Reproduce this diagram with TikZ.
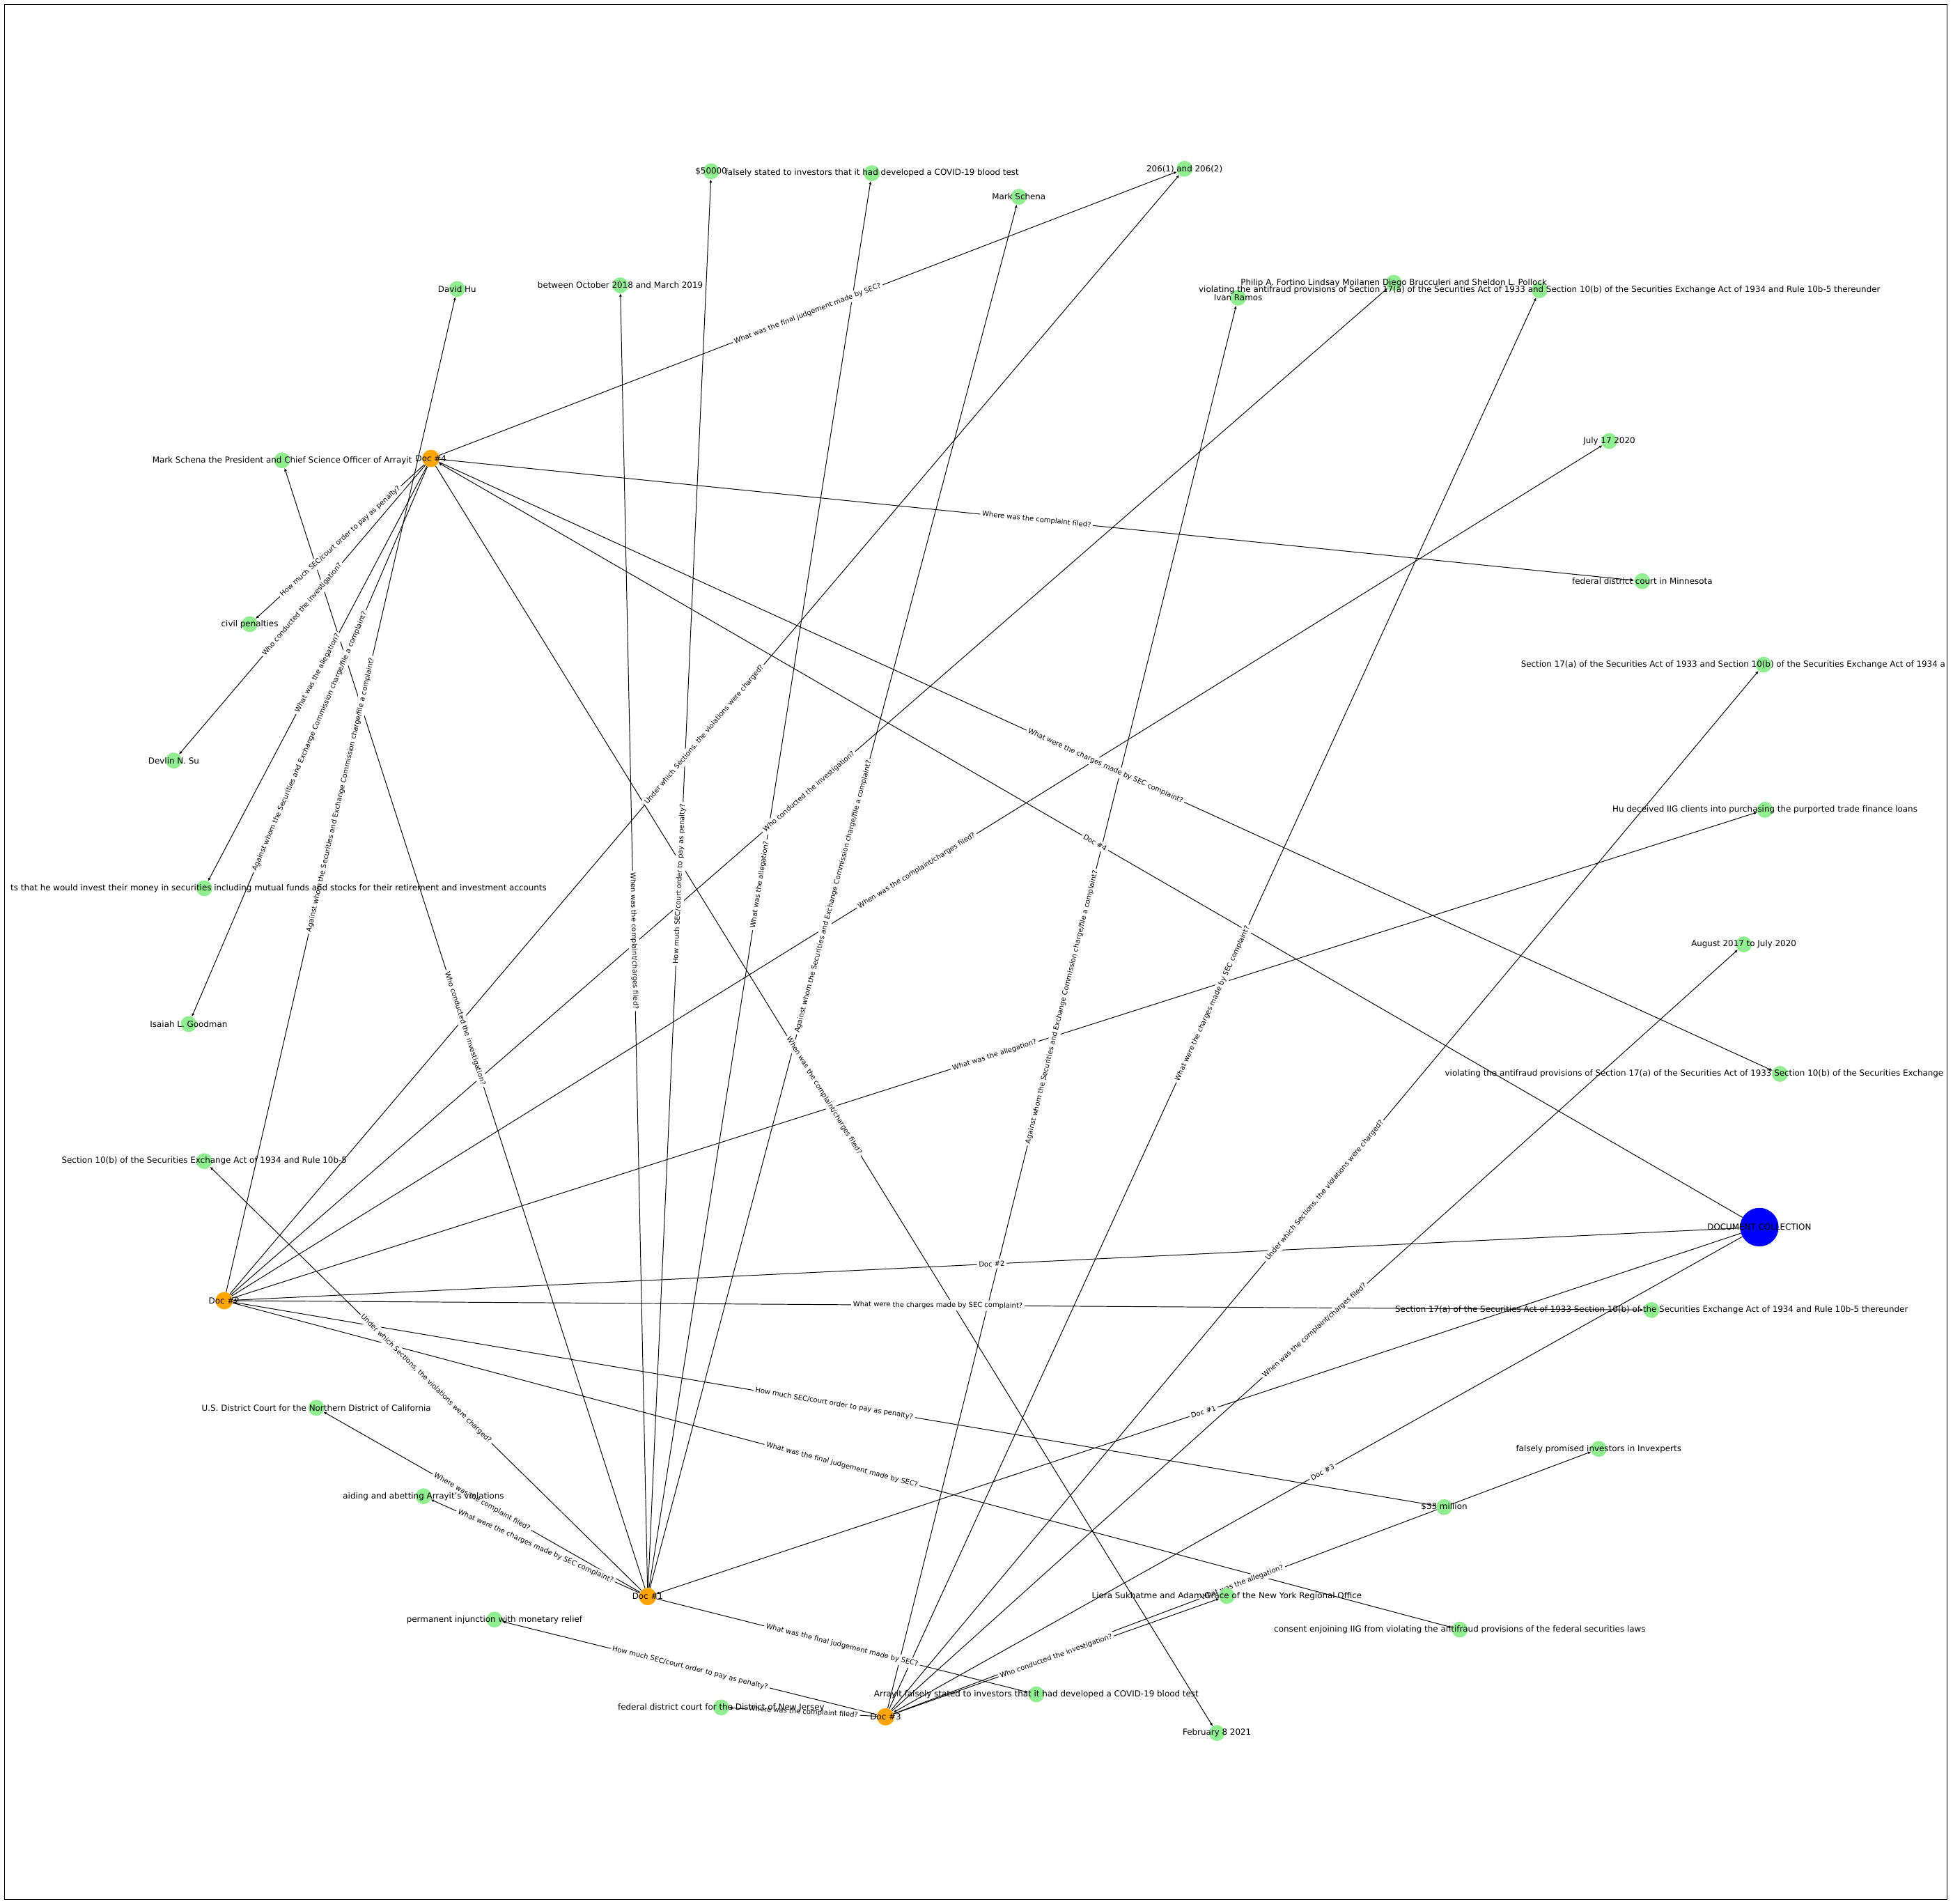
\documentclass[tikz,border=0pt]{standalone}
\usepackage{fontspec}
\setmainfont{DejaVu Sans}
\usetikzlibrary{arrows.meta}
\definecolor{lightgreen}{HTML}{90EE90}
\definecolor{docorange}{HTML}{FFA500}
\pgfdeclarelayer{lines}
\pgfdeclarelayer{qtext}
\pgfsetlayers{lines,qtext,main}
\begin{document}
\begin{tikzpicture}[x=0.4542mm, y=-0.4542mm,
  ans/.style={circle, fill=lightgreen, minimum size=16.5pt, inner sep=0pt},
  doc/.style={circle, fill=docorange, minimum size=18pt, inner sep=0pt},
  collection/.style={circle, fill=blue, minimum size=40pt, inner sep=0pt},
  txt/.style={inner sep=0pt, font=\fontsize{8.6}{10}\selectfont},
  qline/.style={-{Latex[length=3.2pt,width=3pt]}, line width=0.7pt},
  qlabel/.style={midway, sloped, fill=white, rounded corners=2pt, inner sep=2pt, font=\fontsize{7.2}{8}\selectfont}]
\useasboundingbox (0,0) rectangle (1568,1528);
\begin{scope}
\clip (3.4,3.4) rectangle (1563,1524.5);
% document nodes
\node (coll)[collection] at (1412.5, 985) {};
\node (d1)[doc] at (520, 1281.5) {};
\node (d2)[doc] at (180, 1044) {};
\node (d3)[doc] at (711, 1378) {};
\node (d4)[doc] at (346, 368) {};
% answers
\node (fine)[ans] at (571, 137.5) {};
\node (covid)[ans] at (700, 139) {};
\node (sec206)[ans] at (951, 135.5) {};
\node (schena)[ans] at (818, 158) {};
\node (davidhu)[ans] at (367, 232) {};
\node (octmar)[ans] at (498, 229) {};
\node (fortino)[ans] at (1119, 227) {};
\node (viola)[ans] at (1236, 233) {};
\node (ramos)[ans] at (994, 239) {};
\node (july)[ans] at (1292, 354) {};
\node (president)[ans] at (226.5, 369.5) {};
\node (minn)[ans] at (1318.5, 466.5) {};
\node (civil)[ans] at (200.5, 501) {};
\node (seca)[ans] at (1416, 533.5) {};
\node (devlin)[ans] at (139.5, 610.5) {};
\node (hudec)[ans] at (1417, 650) {};
\node (invest)[ans] at (164, 713) {};
\node (augjul)[ans] at (1400, 758) {};
\node (violb)[ans] at (1429, 862) {};
\node (isaiah)[ans] at (151.5, 822) {};
\node (secb)[ans] at (164, 932) {};
\node (secc)[ans] at (1326, 1051.5) {};
\node (usdc)[ans] at (254, 1130) {};
\node (invexp)[ans] at (1283.5, 1163) {};
\node (aiding)[ans] at (340, 1201) {};
\node (million)[ans] at (1159.5, 1209.7) {};
\node (liora)[ans] at (985, 1281) {};
\node (consent)[ans] at (1172, 1308) {};
\node (perm)[ans] at (397, 1300) {};
\node (arrayit)[ans] at (832, 1360) {};
\node (njcourt)[ans] at (579, 1370.5) {};
\node (feb)[ans] at (977, 1391) {};

% connectors
\begin{pgfonlayer}{lines}
\draw[qline] (coll) -- (d1);
\draw[qline] (coll) -- (d2);
\draw[qline] (coll) -- (d3);
\draw[qline] (coll) -- (d4);
\draw[qline] (d1) -- (fine);
\draw[qline] (d1) -- (octmar);
\draw[qline] (d1) -- (covid);
\draw[qline] (d1) -- (schena);
\draw[qline] (d1) -- (president);
\draw[qline] (d1) -- (secb);
\draw[qline] (d1) -- (usdc);
\draw[qline] (d1) -- (aiding);
\draw[qline] (d1) -- (arrayit);
\draw[qline] (d2) -- (davidhu);
\draw[qline] (d2) -- (sec206);
\draw[qline] (d2) -- (fortino);
\draw[qline] (d2) -- (july);
\draw[qline] (d2) -- (hudec);
\draw[qline] (d2) -- (secc);
\draw[qline] (d2) -- (million);
\draw[qline] (d2) -- (consent);
\draw[qline] (d3) -- (ramos);
\draw[qline] (d3) -- (viola);
\draw[qline] (d3) -- (seca);
\draw[qline] (d3) -- (augjul);
\draw[qline] (d3) -- (liora);
\draw[qline] (d3) -- (invexp);
\draw[qline] (d3) -- (perm);
\draw[qline] (d3) -- (njcourt);
\draw[qline] (d4) -- (sec206);
\draw[qline] (d4) -- (minn);
\draw[qline] (d4) -- (violb);
\draw[qline] (d4) -- (civil);
\draw[qline] (d4) -- (devlin);
\draw[qline] (d4) -- (invest);
\draw[qline] (d4) -- (isaiah);
\draw[qline] (d4) -- (feb);
\end{pgfonlayer}

% questions on the connectors
\begin{pgfonlayer}{qtext}
\path (coll.center) -- (d1.center) node[qlabel] {Doc \#1};
\path (coll.center) -- (d2.center) node[qlabel] {Doc \#2};
\path (coll.center) -- (d3.center) node[qlabel] {Doc \#3};
\path (coll.center) -- (d4.center) node[qlabel] {Doc \#4};
\path (d1.center) -- (fine.center) node[qlabel] {How much SEC/court order to pay as penalty?};
\path (d1.center) -- (octmar.center) node[qlabel] {When was the complaint/charges filed?};
\path (d1.center) -- (covid.center) node[qlabel] {What was the allegation?};
\path (d1.center) -- (schena.center) node[qlabel] {Against whom the Securities and Exchange Commission charge/file a complaint?};
\path (d1.center) -- (president.center) node[qlabel] {Who conducted the investigation?};
\path (d1.center) -- (secb.center) node[qlabel] {Under which Sections, the violations were charged?};
\path (d1.center) -- (usdc.center) node[qlabel] {Where was the complaint filed?};
\path (d1.center) -- (aiding.center) node[qlabel] {What were the charges made by SEC complaint?};
\path (d1.center) -- (arrayit.center) node[qlabel] {What was the final judgement made by SEC?};
\path (d2.center) -- (davidhu.center) node[qlabel] {Against whom the Securities and Exchange Commission charge/file a complaint?};
\path (d2.center) -- (sec206.center) node[qlabel] {Under which Sections, the violations were charged?};
\path (d2.center) -- (fortino.center) node[qlabel] {Who conducted the investigation?};
\path (d2.center) -- (july.center) node[qlabel] {When was the complaint/charges filed?};
\path (d2.center) -- (hudec.center) node[qlabel] {What was the allegation?};
\path (d2.center) -- (secc.center) node[qlabel] {What were the charges made by SEC complaint?};
\path (d2.center) -- (million.center) node[qlabel] {How much SEC/court order to pay as penalty?};
\path (d2.center) -- (consent.center) node[qlabel] {What was the final judgement made by SEC?};
\path (d3.center) -- (ramos.center) node[qlabel] {Against whom the Securities and Exchange Commission charge/file a complaint?};
\path (d3.center) -- (viola.center) node[qlabel] {What were the charges made by SEC complaint?};
\path (d3.center) -- (seca.center) node[qlabel] {Under which Sections, the violations were charged?};
\path (d3.center) -- (augjul.center) node[qlabel] {When was the complaint/charges filed?};
\path (d3.center) -- (liora.center) node[qlabel] {Who conducted the investigation?};
\path (d3.center) -- (invexp.center) node[qlabel] {What was the allegation?};
\path (d3.center) -- (perm.center) node[qlabel] {How much SEC/court order to pay as penalty?};
\path (d3.center) -- (njcourt.center) node[qlabel] {Where was the complaint filed?};
\path (d4.center) -- (sec206.center) node[qlabel] {What was the final judgement made by SEC?};
\path (d4.center) -- (minn.center) node[qlabel] {Where was the complaint filed?};
\path (d4.center) -- (violb.center) node[qlabel] {What were the charges made by SEC complaint?};
\path (d4.center) -- (civil.center) node[qlabel] {How much SEC/court order to pay as penalty?};
\path (d4.center) -- (devlin.center) node[qlabel] {Who conducted the investigation?};
\path (d4.center) -- (invest.center) node[qlabel] {What was the allegation?};
\path (d4.center) -- (isaiah.center) node[qlabel] {Against whom the Securities and Exchange Commission charge/file a complaint?};
\path (d4.center) -- (feb.center) node[qlabel] {When was the complaint/charges filed?};
\end{pgfonlayer}

% texts of the nodes
\node (coll-t)[txt] at (coll) {DOCUMENT COLLECTION};
\node (d1-t)[txt] at (d1) {Doc \#1};
\node (d2-t)[txt] at (d2) {Doc \#2};
\node (d3-t)[txt] at (d3) {Doc \#3};
\node (d4-t)[txt] at (d4) {Doc \#4};
\node (fine-t)[txt] at (fine) {\$50000};
\node (covid-t)[txt] at (covid) {falsely stated to investors that it had developed a COVID-19 blood test};
\node (sec206-t)[txt] at (sec206) {206(1) and 206(2)};
\node (schena-t)[txt] at (schena) {Mark Schena};
\node (davidhu-t)[txt] at (davidhu) {David Hu};
\node (octmar-t)[txt] at (octmar) {between October 2018 and March 2019};
\node (fortino-t)[txt] at (fortino) {Philip A. Fortino Lindsay Moilanen Diego Brucculeri and Sheldon L. Pollock};
\node (viola-t)[txt] at (viola) {violating the antifraud provisions of Section 17(a) of the Securities Act of 1933 and Section 10(b) of the Securities Exchange Act of 1934 and Rule 10b-5 thereunder};
\node (ramos-t)[txt] at (ramos) {Ivan Ramos};
\node (july-t)[txt] at (july) {July 17 2020};
\node (president-t)[txt] at (president) {Mark Schena the President and Chief Science Officer of Arrayit};
\node (minn-t)[txt] at (minn) {federal district court in Minnesota};
\node (civil-t)[txt] at (civil) {civil penalties};
\node (seca-t)[txt, anchor=west] at (1221, 533.5) {Section 17(a) of the Securities Act of 1933 and Section 10(b) of the Securities Exchange Act of 1934 a};
\node (devlin-t)[txt] at (devlin) {Devlin N. Su};
\node (hudec-t)[txt] at (hudec) {Hu deceived IIG clients into purchasing the purported trade finance loans};
\node (invest-t)[txt, anchor=east] at (439, 713) {ts that he would invest their money in securities including mutual funds and stocks for their retirement and investment accounts};
\node (augjul-t)[txt] at (augjul) {August 2017 to July 2020};
\node (violb-t)[txt, anchor=west] at (1160, 862) {violating the antifraud provisions of Section 17(a) of the Securities Act of 1933 Section 10(b) of the Securities Exchange};
\node (isaiah-t)[txt] at (isaiah) {Isaiah L. Goodman};
\node (secb-t)[txt] at (secb) {Section 10(b) of the Securities Exchange Act of 1934 and Rule 10b-5};
\node (secc-t)[txt] at (secc) {Section 17(a) of the Securities Act of 1933 Section 10(b) of the Securities Exchange Act of 1934 and Rule 10b-5 thereunder};
\node (usdc-t)[txt] at (usdc) {U.S. District Court for the Northern District of California};
\node (invexp-t)[txt] at (invexp) {falsely promised investors in Invexperts};
\node (aiding-t)[txt] at (aiding) {aiding and abetting Arrayit's violations};
\node (million-t)[txt] at (million) {\$33 million};
\node (liora-t)[txt] at (liora) {Liora Sukhatme and Adam Grace of the New York Regional Office};
\node (consent-t)[txt] at (consent) {consent enjoining IIG from violating the antifraud provisions of the federal securities laws};
\node (perm-t)[txt] at (perm) {permanent injunction with monetary relief};
\node (arrayit-t)[txt] at (arrayit) {Arrayit falsely stated to investors that it had developed a COVID-19 blood test};
\node (njcourt-t)[txt] at (njcourt) {federal district court for the District of New Jersey};
\node (feb-t)[txt] at (feb) {February 8 2021};
\end{scope}
\draw[line width=0.7pt] (3.4,3.4) rectangle (1563,1524.5);
\end{tikzpicture}
\end{document}
